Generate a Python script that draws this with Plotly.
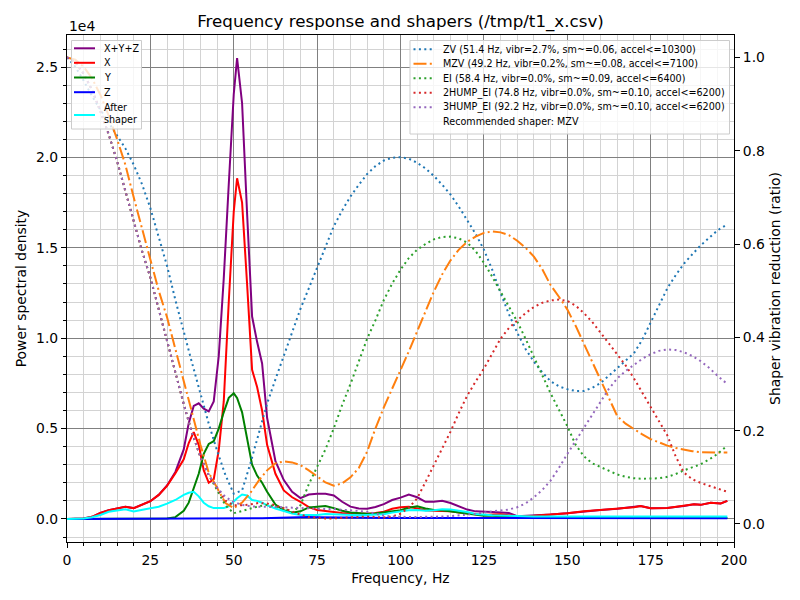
import plotly.graph_objects as go

# PSD of the accelerometer data
psd_freq = [0, 2.5, 5, 7.5, 10, 12.5, 15, 17.5, 20, 22.5,
            25, 27.5, 30, 32.5, 35, 36.5, 38, 39.5, 41, 42.5,
            44, 45.5, 47, 48.5, 50, 51, 52.5, 54, 55.5, 57,
            58.5, 60, 62.5, 65, 67.5, 70, 72.5, 75, 77.5, 80,
            82.5, 85, 87.5, 90, 92.5, 95, 97.5, 100, 102.5, 105,
            107.5, 110, 112.5, 115, 117.5, 120, 122.5, 125, 127.5, 130,
            132.5, 135, 140, 145, 150, 155, 160, 165, 170, 172,
            175, 180, 185, 188, 190, 193, 196, 198]

psd_sum = [0, 0, 20, 120, 330, 480, 560, 680, 600, 780,
           980, 1330, 1850, 2600, 3850, 5300, 6250, 6400, 6100, 5950,
           6500, 9000, 13300, 18500, 23500, 25500, 23000, 16900, 11200, 9800,
           8600, 5600, 3200, 2150, 1500, 1150, 1350, 1400, 1400, 1300,
           950, 680, 580, 560, 660, 820, 1050, 1180, 1350, 1200,
           950, 950, 1000, 880, 700, 520, 420, 380, 380, 360,
           330, 150, 180, 250, 320, 420, 500, 560, 650, 720,
           590, 600, 720, 810, 780, 900, 860, 1000]

psd_x = [0, 0, 20, 120, 330, 480, 560, 680, 590, 780,
         980, 1330, 1830, 2530, 3300, 4200, 4800, 4100, 2700, 2000,
         2200, 3800, 6500, 12000, 17000, 18850, 17500, 13000, 8250, 7300,
         6000, 4100, 2500, 1580, 1200, 950, 650, 500, 430, 380,
         330, 310, 290, 290, 330, 400, 560, 650, 680, 580,
         480, 460, 460, 420, 360, 300, 240, 220, 240, 260,
         200, 150, 180, 240, 320, 420, 500, 560, 650, 720,
         590, 600, 720, 810, 780, 900, 860, 1000]

psd_y = [0, 0, 0, 0, 0, 0, 0, 0, 0, 0,
         0, 0, 20, 100, 450, 900, 1700, 2500, 3600, 4150,
         4300, 5000, 5900, 6700, 6950, 6700, 5900, 4500, 3000, 2400,
         2000, 1500, 800, 480, 350, 420, 640, 680, 720, 600,
         450, 360, 320, 290, 300, 350, 420, 480, 620, 700,
         580, 500, 480, 420, 380, 300, 230, 180, 180, 170,
         120, 60, 50, 50, 50, 50, 50, 50, 50, 50,
         50, 50, 50, 50, 50, 50, 50, 50]

psd_z = [0, 0, 5, 10, 10, 10, 10, 10, 10, 10,
         10, 10, 10, 10, 15, 15, 15, 20, 20, 20,
         20, 20, 25, 25, 30, 30, 30, 35, 35, 40,
         45, 55, 70, 85, 100, 110, 110, 100, 90, 80,
         70, 65, 60, 60, 55, 55, 50, 50, 50, 50,
         50, 50, 45, 45, 45, 45, 45, 45, 45, 45,
         40, 40, 40, 40, 40, 40, 40, 40, 40, 40,
         40, 40, 40, 40, 40, 40, 40, 40]

psd_after = [0, 0, 20, 100, 220, 400, 460, 530, 420, 500,
             590, 680, 850, 1050, 1330, 1450, 1500, 1250, 900, 700,
             600, 590, 600, 700, 960, 1150, 1350, 1300, 1050, 1000,
             900, 750, 580, 450, 300, 220, 200, 220, 280, 260,
             220, 210, 210, 220, 240, 260, 350, 420, 480, 500,
             460, 480, 540, 520, 460, 380, 280, 230, 200, 190,
             170, 140, 140, 140, 140, 140, 140, 140, 140, 140,
             140, 140, 140, 140, 140, 140, 140, 140]

# shaper responses
shaper_freq = [0, 2.5, 5, 7.5, 10, 12.5, 15, 17.5, 20, 22.5,
               25, 27.5, 30, 32.5, 35, 37.5, 40, 42.5, 45, 47.5,
               50, 52.5, 55, 57.5, 60, 62.5, 65, 67.5, 70, 72.5,
               75, 77.5, 80, 82.5, 85, 87.5, 90, 92.5, 95, 97.5,
               100, 102.5, 105, 107.5, 110, 112.5, 115, 117.5, 120, 122.5,
               125, 127.5, 130, 132.5, 135, 137.5, 140, 142.5, 145, 147.5,
               150, 152.5, 155, 157.5, 160, 162.5, 165, 167.5, 170, 172.5,
               175, 177.5, 180, 182.5, 185, 187.5, 190, 192.5, 195, 198]

zv = [1.0, 0.98, 0.95, 0.917, 0.888, 0.86, 0.833, 0.805, 0.77, 0.728,
      0.677, 0.615, 0.553, 0.48, 0.41, 0.345, 0.28, 0.215, 0.157, 0.105,
      0.065, 0.072, 0.13, 0.195, 0.258, 0.31, 0.36, 0.41, 0.461, 0.505,
      0.548, 0.595, 0.638, 0.672, 0.702, 0.727, 0.75, 0.767, 0.779, 0.785,
      0.786, 0.783, 0.774, 0.762, 0.746, 0.727, 0.706, 0.68, 0.652, 0.622,
      0.588, 0.545, 0.495, 0.45, 0.41, 0.375, 0.348, 0.325, 0.306, 0.295,
      0.289, 0.285, 0.285, 0.292, 0.302, 0.318, 0.333, 0.35, 0.366, 0.395,
      0.432, 0.47, 0.505, 0.533, 0.558, 0.578, 0.597, 0.613, 0.629, 0.642]

mzv = [1.0, 0.995, 0.98, 0.955, 0.92, 0.875, 0.825, 0.77, 0.70, 0.635,
       0.565, 0.5, 0.443, 0.375, 0.307, 0.233, 0.17, 0.11, 0.078, 0.045,
       0.034, 0.046, 0.067, 0.093, 0.115, 0.13, 0.134, 0.132, 0.126, 0.115,
       0.102, 0.089, 0.082, 0.087, 0.1, 0.12, 0.155, 0.205, 0.25, 0.29,
       0.327, 0.37, 0.413, 0.456, 0.498, 0.535, 0.565, 0.588, 0.605, 0.616,
       0.624, 0.627, 0.625, 0.619, 0.607, 0.592, 0.573, 0.546, 0.512, 0.487,
       0.46, 0.425, 0.386, 0.348, 0.308, 0.268, 0.231, 0.215, 0.203, 0.192,
       0.182, 0.175, 0.168, 0.163, 0.159, 0.156, 0.154, 0.153, 0.153, 0.153]

ei = [1.0, 0.99, 0.965, 0.93, 0.885, 0.835, 0.778, 0.715, 0.65, 0.585,
      0.528, 0.46, 0.393, 0.324, 0.257, 0.195, 0.144, 0.105, 0.072, 0.04,
      0.023, 0.028, 0.034, 0.038, 0.041, 0.038, 0.034, 0.025, 0.04, 0.085,
      0.123, 0.16, 0.205, 0.255, 0.3, 0.35, 0.397, 0.437, 0.48, 0.515,
      0.545, 0.57, 0.588, 0.6, 0.61, 0.615, 0.616, 0.612, 0.603, 0.585,
      0.56, 0.53, 0.498, 0.466, 0.434, 0.397, 0.358, 0.32, 0.28, 0.245,
      0.21, 0.17, 0.145, 0.13, 0.122, 0.113, 0.106, 0.101, 0.098, 0.097,
      0.097, 0.098, 0.101, 0.107, 0.115, 0.122, 0.128, 0.138, 0.15, 0.168]

hump2_ei = [1.0, 0.99, 0.965, 0.93, 0.885, 0.835, 0.778, 0.715, 0.65, 0.585,
            0.528, 0.46, 0.393, 0.324, 0.257, 0.195, 0.144, 0.105, 0.076, 0.05,
            0.04, 0.04, 0.042, 0.045, 0.044, 0.04, 0.034, 0.027, 0.02, 0.015,
            0.013, 0.012, 0.012, 0.013, 0.015, 0.016, 0.016, 0.015, 0.014, 0.016,
            0.022, 0.035, 0.055, 0.09, 0.125, 0.162, 0.198, 0.238, 0.275, 0.305,
            0.333, 0.365, 0.397, 0.42, 0.437, 0.452, 0.465, 0.474, 0.479, 0.481,
            0.478, 0.468, 0.452, 0.433, 0.41, 0.386, 0.362, 0.34, 0.312, 0.281,
            0.25, 0.22, 0.19, 0.145, 0.11, 0.096, 0.088, 0.082, 0.076, 0.069]

hump3_ei = [1.0, 0.99, 0.965, 0.93, 0.885, 0.835, 0.778, 0.715, 0.65, 0.585,
            0.528, 0.46, 0.393, 0.324, 0.257, 0.195, 0.144, 0.105, 0.078, 0.058,
            0.047, 0.041, 0.038, 0.037, 0.037, 0.037, 0.036, 0.035, 0.034, 0.033,
            0.032, 0.032, 0.032, 0.031, 0.03, 0.028, 0.026, 0.022, 0.018, 0.016,
            0.015, 0.015, 0.015, 0.015, 0.016, 0.016, 0.017, 0.018, 0.02, 0.022,
            0.025, 0.027, 0.029, 0.031, 0.036, 0.044, 0.057, 0.073, 0.093, 0.12,
            0.15, 0.178, 0.206, 0.236, 0.263, 0.29, 0.312, 0.328, 0.341, 0.354,
            0.364, 0.371, 0.374, 0.373, 0.368, 0.36, 0.349, 0.335, 0.318, 0.3]

y_ticks = [0, 5000, 10000, 15000, 20000, 25000]
y_ticktext = ["0.0", "0.5", "1.0", "1.5", "2.0", "2.5"]

FONT = "DejaVu Sans"
DOT = "2px,3.4px"
DASHDOT = "13px,3.3px,2px,3.3px"

# page body has an 8px margin, so the figure is a little smaller
W, H = 792, 592
ML, MR, MT, MB = 59, 66, 27, 58
PW, PH = W - ML - MR, H - MT - MB


def px(x):
    return (x - 8 - ML) / PW


def py(y):
    return (H - MB - (y - 8)) / PH


fig = go.Figure()

psd_series = [
    ("X+Y+Z", psd_sum, "purple"),
    ("X", psd_x, "red"),
    ("Y", psd_y, "green"),
    ("Z", psd_z, "blue"),
    ("After<br>shaper", psd_after, "cyan"),
]
for name, vals, color in psd_series:
    fig.add_trace(go.Scatter(x=psd_freq, y=vals, name=name, mode="lines",
                             line=dict(color=color, width=2)))

shaper_series = [
    ("ZV (51.4 Hz, vibr=2.7%, sm~=0.06, accel<=10300)", zv, "#1f77b4", DOT),
    ("MZV (49.2 Hz, vibr=0.2%, sm~=0.08, accel<=7100)", mzv, "#ff7f0e", DASHDOT),
    ("EI (58.4 Hz, vibr=0.0%, sm~=0.09, accel<=6400)", ei, "#2ca02c", DOT),
    ("2HUMP_EI (74.8 Hz, vibr=0.0%, sm~=0.10, accel<=6200)", hump2_ei, "#d62728", DOT),
    ("3HUMP_EI (92.2 Hz, vibr=0.0%, sm~=0.10, accel<=6200)", hump3_ei, "#9467bd", DOT),
]
for name, vals, color, dash in shaper_series:
    fig.add_trace(go.Scatter(x=shaper_freq, y=vals, name=name, mode="lines", yaxis="y2",
                             line=dict(color=color, width=2, dash=dash)))

# legends drawn by hand to get matplotlib's compact rows
shapes = []
annotations = []


def legend_box(x0, x1, y0, y1):
    shapes.append(dict(type="rect", xref="paper", yref="paper", layer="above",
                       x0=px(x0), x1=px(x1), y0=py(y1), y1=py(y0),
                       fillcolor="rgba(255,255,255,0.8)",
                       line=dict(color="#cccccc", width=1)))


def legend_row(x0, x1, y, color, dash, text, ty=None):
    if color is not None:
        shapes.append(dict(type="line", xref="paper", yref="paper", layer="above",
                           x0=px(x0), x1=px(x1), y0=py(y), y1=py(y),
                           line=dict(color=color, width=2, dash=dash)))
    annotations.append(dict(text=text, xref="paper", yref="paper", x=px(x1 + 6.5),
                            y=py(ty if ty is not None else y), xanchor="left",
                            yanchor="middle", align="left", showarrow=False,
                            font=dict(size=9.6, family=FONT, color="black")))


legend_box(71.5, 141.5, 40.5, 129)
left_rows = [48.3, 62.8, 77.5, 92.2, 115]
for (name, vals, color), y in zip(psd_series, left_rows):
    ty = 113.2 if "<br>" in name else y
    legend_row(74, 95, y, color, "solid", name, ty)

legend_box(410, 729.5, 40.5, 134)
right_rows = [49.3, 63.8, 78.3, 92.8, 107.3]
for (name, vals, color, dash), y in zip(shaper_series, right_rows):
    legend_row(413.5, 434.5, y, color, dash, name)
legend_row(413.5, 434.5, 121.8, None, None, "Recommended shaper: MZV")

annotations.append(dict(text="1e4", x=0, xref="paper", xanchor="left",
                        y=py(26), yref="paper", yanchor="middle",
                        showarrow=False, font=dict(size=13.9, family=FONT, color="black")))

axis_common = dict(ticks="outside", ticklen=5, tickwidth=1.1, tickcolor="black",
                   showline=True, linecolor="black", linewidth=1.1, automargin=False,
                   zeroline=False, tickfont=dict(size=13.9, color="black"))

fig.update_layout(
    width=W, height=H,
    margin=dict(l=ML, r=MR, t=MT, b=MB),
    paper_bgcolor="white", plot_bgcolor="white",
    font=dict(family=FONT, size=13.9, color="black"),
    showlegend=False,
    title=dict(text="Frequency response and shapers (/tmp/t1_x.csv)", x=0.5, xref="paper",
               y=1 - 13 / H, yref="container", yanchor="middle", xanchor="center",
               font=dict(size=16.7)),
    xaxis=dict(range=[0, 200], tick0=0, dtick=25, mirror=True,
               showgrid=True, gridcolor="#808080", gridwidth=1.1,
               minor=dict(tick0=0, dtick=5, ticks="outside", ticklen=3, tickcolor="black",
                          showgrid=True, gridcolor="#d3d3d3", gridwidth=1.1),
               title=dict(text="Frequency, Hz", standoff=6, font=dict(size=13.9)),
               **axis_common),
    yaxis=dict(range=[-1275, 26775], tickmode="array", tickvals=y_ticks, ticktext=y_ticktext,
               mirror=True, showgrid=True, gridcolor="#808080", gridwidth=1.1,
               minor=dict(tickmode="linear", tick0=0, dtick=1000, ticks="outside", ticklen=3,
                          tickcolor="black", showgrid=True, gridcolor="#d3d3d3", gridwidth=1.1),
               title=dict(text="Power spectral density", standoff=6, font=dict(size=13.9)),
               **axis_common),
    yaxis2=dict(range=[-0.0386, 1.048], overlaying="y", side="right", tick0=0, dtick=0.2,
                tickformat=".1f", showgrid=False,
                title=dict(text="Shaper vibration reduction (ratio)", standoff=6,
                           font=dict(size=13.9)),
                **axis_common),
    shapes=shapes,
    annotations=annotations,
)

fig.write_html("out.html")
